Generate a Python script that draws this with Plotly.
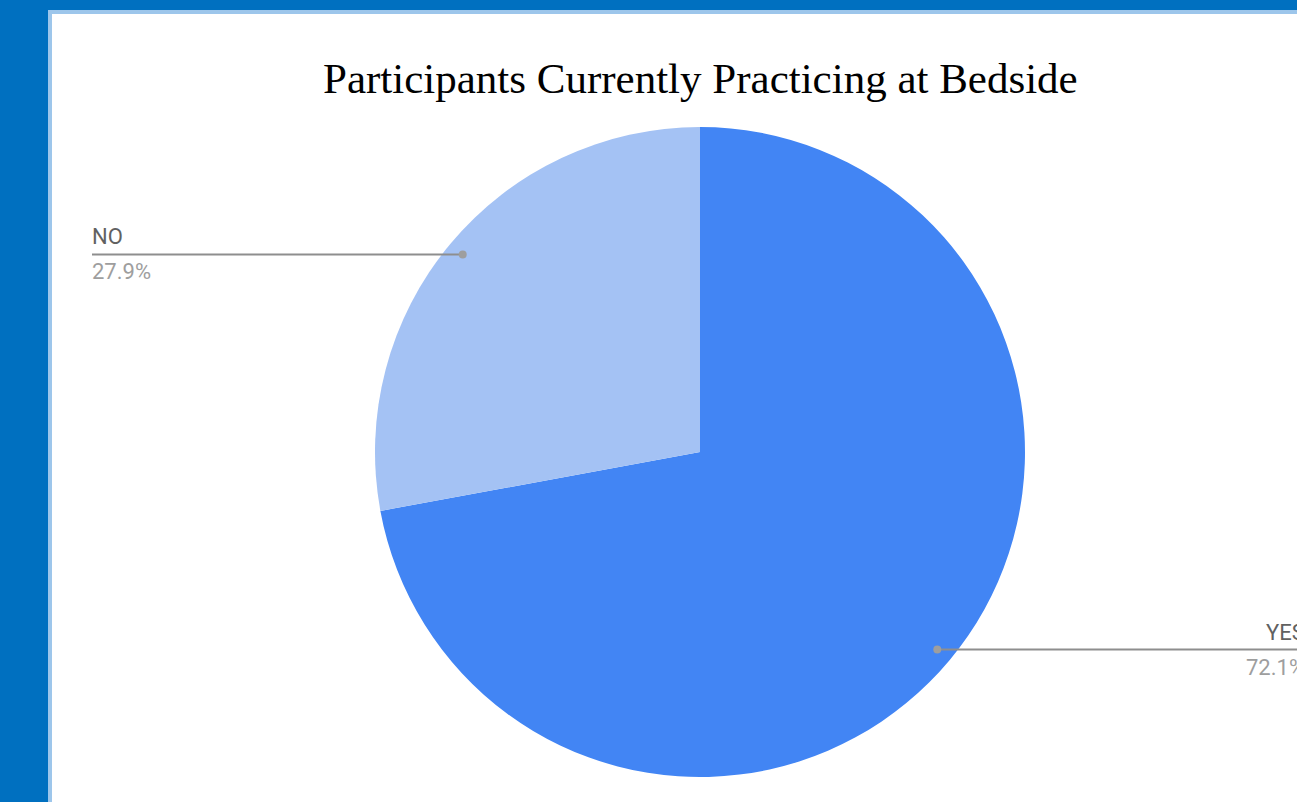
import math
import plotly.graph_objects as go

labels = ["YES", "NO"]
values = [72.1, 27.9]
colors = ["#4285F4", "#A4C2F4"]
title_text = "Participants Currently Practicing at Bedside"

W, H = 1297, 802
cx, cy, R = 700, 452, 325  # pie placement in pixels

fig = go.Figure()
fig.add_trace(go.Pie(
    labels=labels, values=values, sort=False, direction="clockwise", rotation=0,
    marker=dict(colors=colors, line=dict(width=0)),
    textinfo="none", hoverinfo="label+percent", showlegend=False,
    domain=dict(x=[(cx - R) / W, (cx + R) / W], y=[(H - cy - R) / H, (H - cy + R) / H]),
))
# invisible scatter to activate the pixel axes
fig.add_trace(go.Scatter(x=[0, W], y=[0, H], mode="markers", marker=dict(opacity=0),
                         hoverinfo="skip", showlegend=False))

shapes = [
    dict(type="rect", xref="x", yref="y", x0=48, x1=W + 20, y0=10, y1=H + 20,
         fillcolor="#9DC6EB", line=dict(width=0), layer="below"),
    dict(type="rect", xref="x", yref="y", x0=52, x1=W + 20, y0=14, y1=H + 20,
         fillcolor="#FFFFFF", line=dict(width=0), layer="below"),
]

total = sum(values)
cum = 0
ends = {"NO": 92, "YES": 1306}
for lab, v in zip(labels, values):
    mid = (cum + v / 2) / total * 360
    cum += v
    ang = math.radians(90 - mid)
    px = cx + 0.95 * R * math.cos(ang)
    py = cy - 0.95 * R * math.sin(ang)
    xe = ends[lab]
    shapes.append(dict(type="line", xref="x", yref="y", x0=px, x1=xe, y0=py, y1=py,
                       line=dict(color="#8E8E8E", width=2), layer="above"))
    shapes.append(dict(type="circle", xref="x", yref="y", x0=px - 4, x1=px + 4, y0=py - 4, y1=py + 4,
                       fillcolor="#9E9E9E", line=dict(width=0), layer="above"))
    left = xe < cx
    anchor = "left" if left else "right"
    tx = (xe - 2) / W if left else (xe + 1) / W
    fig.add_annotation(x=tx, y=1 - (py - 3) / H, xref="paper", yref="paper", text=lab, showarrow=False,
                       xanchor=anchor, yanchor="bottom", font=dict(family="Roboto", size=22, color="#616161"))
    fig.add_annotation(x=tx, y=1 - (py + 3) / H, xref="paper", yref="paper", text=f"{v/total*100:.1f}%",
                       showarrow=False, xanchor=anchor, yanchor="top",
                       font=dict(family="Roboto", size=22, color="#9E9E9E"))

fig.add_annotation(x=700, y=78, xref="x", yref="y", text=title_text, showarrow=False,
                   xanchor="center", yanchor="middle",
                   font=dict(family="Liberation Serif", size=43, color="#000000"))

fig.update_layout(
    width=W, height=H, margin=dict(l=0, r=0, t=0, b=0),
    paper_bgcolor="#0070C0", plot_bgcolor="rgba(0,0,0,0)",
    xaxis=dict(range=[0, W], visible=False, fixedrange=True),
    yaxis=dict(range=[H, 0], visible=False, fixedrange=True),
    shapes=shapes,
)

fig.write_html("out.html", config={"displayModeBar": False},
               post_script="document.body.style.margin='0';document.body.style.overflow='hidden';")
